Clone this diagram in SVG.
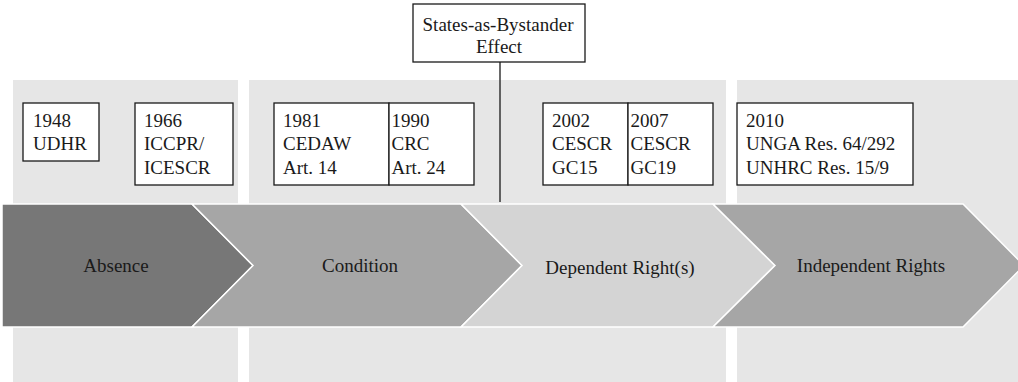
<svg xmlns="http://www.w3.org/2000/svg" width="1018" height="382" viewBox="0 0 1018 382">
<style>
.panel{fill:#e6e6e6}
.chev{stroke:#ffffff;stroke-width:1.5;stroke-linejoin:miter}
.box{fill:#ffffff;stroke:#1a1a1a;stroke-width:1.3}
.t{font-family:"Liberation Serif","Times New Roman",serif;font-size:19px;fill:#1a1a1a}
.c{text-anchor:middle}
.conn{stroke:#1a1a1a;stroke-width:1.3;fill:none}
</style>
<rect width="1018" height="382" fill="#ffffff"/>
<g id="panels">
<rect class="panel" x="13" y="80" width="225" height="302"/>
<rect class="panel" x="249" y="80" width="477" height="302"/>
<rect class="panel" x="737" y="80" width="281" height="302"/>
</g>
<g id="connectors">
<line class="conn" x1="500" y1="62" x2="500" y2="202"/>
</g>
<g id="absence">
<polygon class="chev" fill="#777777" points="2,204 192,204 253,265.5 192,327 2,327"/>
<text class="t c" x="116" y="272">Absence</text>
</g>
<g id="condition">
<polygon class="chev" fill="#a6a6a6" points="192,204 461,204 522,265.5 461,327 192,327 253,265.5"/>
<text class="t c" x="360" y="272">Condition</text>
</g>
<g id="dependent">
<polygon class="chev" fill="#d4d4d4" points="461,204 713,204 775,265.5 713,327 461,327 522,265.5"/>
<text class="t c" x="620" y="274">Dependent Right(s)</text>
</g>
<g id="independent">
<polygon class="chev" fill="#a6a6a6" points="713,204 963,204 1024,265.5 963,327 713,327 775,265.5"/>
<text class="t c" x="871" y="272">Independent Rights</text>
</g>
<g id="states-bystander">
<rect class="box" x="413" y="4" width="172" height="58"/>
<text class="t c" x="498" y="31">States-as-Bystander</text>
<text class="t c" x="499" y="53">Effect</text>
</g>
<g id="box-1948">
<rect class="box" x="23" y="103" width="76" height="58"/>
<text class="t" x="33" y="126.5">1948</text>
<text class="t" x="33" y="150">UDHR</text>
</g>
<g id="box-1966">
<rect class="box" x="135" y="103" width="98" height="82"/>
<text class="t" x="144" y="126.5">1966</text>
<text class="t" x="144" y="150">ICCPR/</text>
<text class="t" x="144" y="173.5">ICESCR</text>
</g>
<g id="box-1981">
<rect class="box" x="274" y="103" width="115" height="82"/>
<text class="t" x="283" y="126.5">1981</text>
<text class="t" x="283" y="150">CEDAW</text>
<text class="t" x="283" y="173.5">Art. 14</text>
</g>
<g id="box-1990">
<rect class="box" x="389" y="103" width="85" height="82"/>
<text class="t" x="391.5" y="126.5">1990</text>
<text class="t" x="391.5" y="150">CRC</text>
<text class="t" x="391.5" y="173.5">Art. 24</text>
</g>
<g id="box-2002">
<rect class="box" x="543" y="103" width="85" height="82"/>
<text class="t" x="552" y="126.5">2002</text>
<text class="t" x="552" y="150">CESCR</text>
<text class="t" x="552" y="173.5">GC15</text>
</g>
<g id="box-2007">
<rect class="box" x="628" y="103" width="85" height="82"/>
<text class="t" x="630.5" y="126.5">2007</text>
<text class="t" x="630.5" y="150">CESCR</text>
<text class="t" x="630.5" y="173.5">GC19</text>
</g>
<g id="box-2010">
<rect class="box" x="737" y="103" width="176" height="82"/>
<text class="t" x="746" y="126.5">2010</text>
<text class="t" x="746" y="150">UNGA Res. 64/292</text>
<text class="t" x="746" y="173.5">UNHRC Res. 15/9</text>
</g>
</svg>
